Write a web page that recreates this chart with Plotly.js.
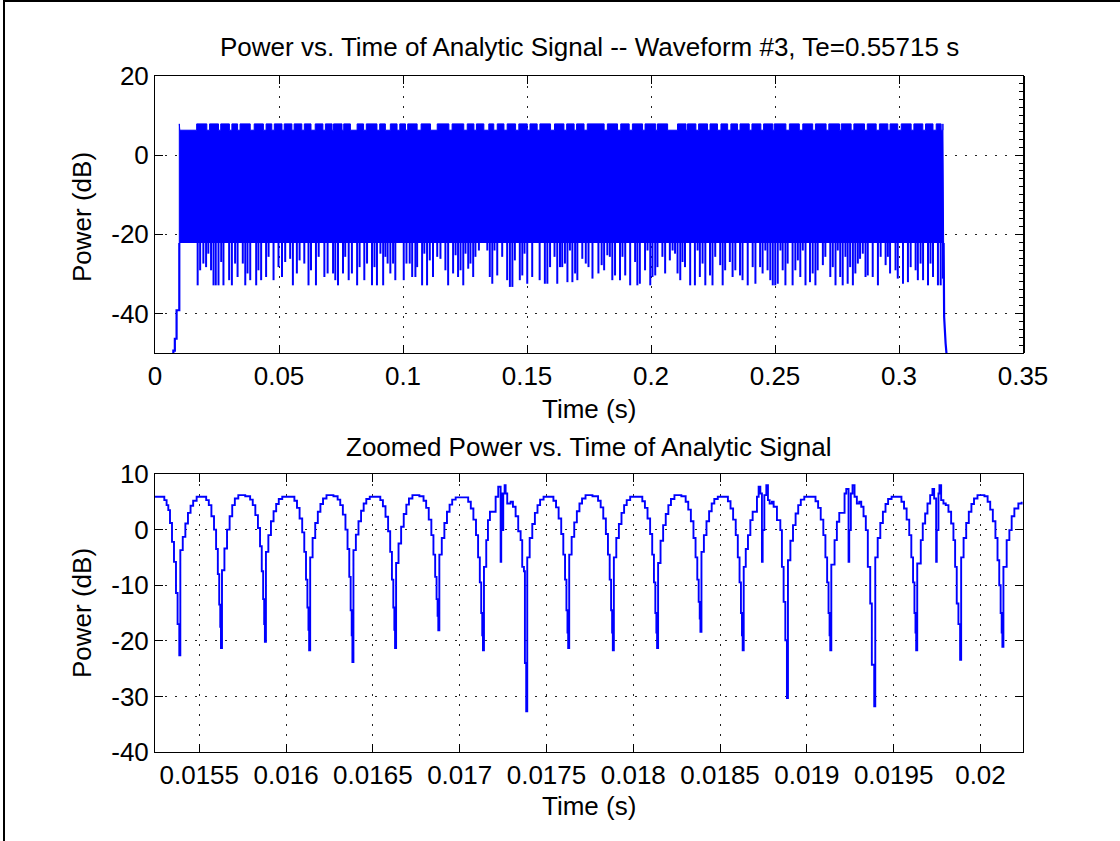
<!DOCTYPE html>
<html>
<head>
<meta charset="utf-8">
<script src="https://cdn.plot.ly/plotly-3.0.1.min.js"></script>
<style>html,body{margin:0;padding:0;background:#fff;}#chart{width:1120px;height:841px;}</style>
</head>
<body>
<div id="chart"></div>
<script>
// ---------- Top panel: Power vs. Time (s) ----------
const topTitle = "Power vs. Time of Analytic Signal -- Waveform #3, Te=0.55715 s";
const zoomTitle = "Zoomed Power vs. Time of Analytic Signal";
const xLabel = "Time (s)";
const yLabel = "Power (dB)";

const topXTicks = [0, 0.05, 0.1, 0.15, 0.2, 0.25, 0.3, 0.35];
const topXTickText = ["0", "0.05", "0.1", "0.15", "0.2", "0.25", "0.3", "0.35"];
const topYTicks = [-40, -20, 0, 20];
const topYTickText = ["-40", "-20", "0", "20"];

// solid band of the dense signal
const bandStart = 0.0098, bandEnd = 0.3180;
const bandHighDb = 7.9, bandNotchDb = 6.3, bandBaseDb = -22.2;
// spans where the upper edge sits at the lower level
const notchStart = [0.0100,0.0209,0.0256,0.0300,0.0333,0.0384,0.0437,0.0471,0.0512,0.0552,
  0.0592,0.0629,0.0677,0.0714,0.0754,0.0788,0.0841,0.0895,0.0929,0.0976,
  0.1010,0.1057,0.1111,0.1185,0.1245,0.1286,0.1326,0.1366,0.1407,0.1454,
  0.1501,0.1541,0.1595,0.1649,0.1690,0.1730,0.1811,0.1865,0.1912,0.1966,
  0.2019,0.2067,0.2141,0.2181,0.2228,0.2268,0.2309,0.2349,0.2396,0.2443,
  0.2491,0.2544,0.2598,0.2652,0.2706,0.2760,0.2807,0.2861,0.2908,0.2955,
  0.2995,0.3049,0.3096,0.3137,0.3170];
const notchEnd = [0.0168,0.0220,0.0265,0.0310,0.0343,0.0400,0.0448,0.0481,0.0521,0.0561,
  0.0602,0.0646,0.0687,0.0720,0.0761,0.0815,0.0852,0.0906,0.0949,0.0987,
  0.1019,0.1073,0.1138,0.1198,0.1259,0.1296,0.1346,0.1380,0.1420,0.1467,
  0.1512,0.1552,0.1611,0.1660,0.1700,0.1743,0.1824,0.1878,0.1925,0.1976,
  0.2026,0.2107,0.2147,0.2192,0.2238,0.2282,0.2322,0.2359,0.2407,0.2454,
  0.2497,0.2558,0.2612,0.2663,0.2717,0.2767,0.2818,0.2872,0.2921,0.2964,
  0.3009,0.3060,0.3107,0.3150,0.3177];

// downward spikes below the band
const spikeTime = [
  0.0172,0.0182,0.0195,0.0206,0.0215,0.0226,0.0236,0.0245,0.0256,0.0267,
  0.0276,0.0299,0.0310,0.0323,0.0333,0.0354,0.0364,0.0373,0.0384,0.0408,
  0.0417,0.0428,0.0448,0.0458,0.0478,0.0498,0.0512,0.0525,0.0545,0.0556,
  0.0572,0.0583,0.0602,0.0619,0.0629,0.0649,0.0660,0.0683,0.0696,0.0718,
  0.0727,0.0738,0.0758,0.0767,0.0781,0.0794,0.0815,0.0825,0.0844,0.0855,
  0.0875,0.0885,0.0895,0.0909,0.0920,0.0929,0.0938,0.0949,0.0960,0.0969,
  0.1003,0.1014,0.1027,0.1037,0.1050,0.1057,0.1077,0.1086,0.1097,0.1108,
  0.1121,0.1138,0.1151,0.1171,0.1182,0.1202,0.1212,0.1222,0.1232,0.1243,
  0.1252,0.1263,0.1272,0.1283,0.1292,0.1306,0.1340,0.1350,0.1360,0.1369,
  0.1380,0.1400,0.1420,0.1431,0.1441,0.1451,0.1471,0.1481,0.1490,0.1501,
  0.1521,0.1551,0.1572,0.1582,0.1593,0.1611,0.1622,0.1633,0.1642,0.1653,
  0.1663,0.1673,0.1683,0.1694,0.1703,0.1723,0.1737,0.1748,0.1764,0.1788,
  0.1801,0.1811,0.1824,0.1834,0.1844,0.1855,0.1875,0.1885,0.1896,0.1916,
  0.1936,0.1945,0.1955,0.1976,0.1986,0.1997,0.2006,0.2017,0.2026,0.2046,
  0.2057,0.2076,0.2087,0.2097,0.2107,0.2118,0.2127,0.2137,0.2158,0.2177,
  0.2188,0.2197,0.2208,0.2219,0.2238,0.2248,0.2259,0.2279,0.2289,0.2299,
  0.2318,0.2329,0.2340,0.2359,0.2369,0.2390,0.2410,0.2421,0.2440,0.2450,
  0.2461,0.2470,0.2481,0.2491,0.2501,0.2511,0.2522,0.2531,0.2542,0.2551,
  0.2571,0.2582,0.2592,0.2602,0.2612,0.2623,0.2641,0.2652,0.2663,0.2672,
  0.2693,0.2703,0.2723,0.2733,0.2744,0.2753,0.2763,0.2773,0.2784,0.2793,
  0.2803,0.2814,0.2824,0.2834,0.2843,0.2854,0.2865,0.2874,0.2894,0.2915,
  0.2926,0.2946,0.2955,0.2964,0.2986,0.2995,0.3016,0.3036,0.3047,0.3067,
  0.3076,0.3087,0.3097,0.3117,0.3127,0.3137,0.3157,0.3168,0.3177];
const spikeDb = [
  -32.9,-29.1,-27.4,-28.3,-24.9,-29.1,-32.9,-32.9,-32.9,-27.0,
  -32.9,-31.6,-32.9,-27.4,-30.8,-27.4,-32.9,-29.9,-31.6,-32.9,
  -29.1,-31.6,-30.8,-25.7,-31.6,-28.3,-30.8,-27.0,-26.2,-32.9,
  -29.9,-26.6,-27.4,-32.9,-29.1,-32.9,-25.7,-30.8,-29.9,-29.9,
  -31.6,-32.9,-29.9,-25.7,-31.6,-29.9,-32.9,-28.3,-31.6,-27.4,
  -32.9,-28.3,-32.9,-24.9,-32.9,-25.7,-27.4,-29.9,-27.4,-31.6,
  -31.6,-27.4,-27.4,-30.8,-30.8,-28.3,-32.9,-24.9,-32.9,-26.6,
  -30.8,-25.7,-26.2,-29.1,-32.9,-29.9,-25.3,-30.8,-29.1,-32.9,
  -24.9,-28.7,-27.4,-30.8,-25.7,-24.1,-24.1,-30.8,-32.5,-24.1,
  -30.4,-25.7,-31.6,-33.3,-33.3,-26.6,-31.6,-30.4,-24.9,-32.5,
  -30.8,-31.6,-32.5,-32.5,-28.3,-25.7,-32.5,-28.3,-28.3,-27.4,
  -32.1,-24.1,-32.1,-29.9,-31.6,-26.2,-27.4,-28.3,-31.2,-29.9,
  -27.8,-29.1,-25.3,-25.7,-31.6,-30.4,-31.6,-25.7,-30.4,-32.9,
  -27.0,-32.9,-32.5,-29.1,-24.1,-32.9,-30.8,-30.4,-28.3,-25.7,
  -29.9,-26.6,-24.1,-24.9,-29.9,-31.6,-27.0,-28.3,-32.9,-32.9,
  -24.1,-30.8,-27.4,-32.9,-30.4,-32.9,-25.7,-27.8,-32.9,-29.1,
  -27.0,-30.8,-29.1,-30.4,-31.6,-32.9,-28.3,-32.5,-28.3,-29.9,
  -24.1,-29.1,-31.6,-32.9,-32.9,-32.5,-24.1,-29.1,-32.9,-27.4,
  -32.9,-29.1,-26.6,-30.8,-24.1,-32.9,-32.1,-29.9,-32.9,-29.1,
  -27.8,-25.7,-30.8,-28.3,-32.9,-24.1,-30.8,-32.9,-25.7,-32.5,
  -28.3,-32.9,-29.9,-27.4,-26.2,-24.9,-30.8,-30.4,-30.8,-32.9,
  -25.7,-27.8,-25.7,-29.9,-29.1,-31.2,-32.5,-32.1,-28.3,-29.1,
  -31.6,-27.4,-31.6,-32.9,-27.4,-30.8,-32.9,-32.9,-31.2];

// onset and decay of the burst
const leadTime = [0.0070, 0.0074, 0.0080, 0.0087, 0.0098];
const leadDb = [-50.0, -49.4, -46.4, -39.2, -22.2];
const tailTime = [0.3180, 0.3180, 0.3182, 0.3188, 0.3192];
const tailDb = [-22.2, -31.2, -40.9, -47.6, -50.5];

// ---------- Bottom panel: zoomed view (time in ms) ----------
const zoomXTicks = [0.0155, 0.016, 0.0165, 0.017, 0.0175, 0.018, 0.0185, 0.019, 0.0195, 0.02];
const zoomXTickText = ["0.0155", "0.016", "0.0165", "0.017", "0.0175", "0.018", "0.0185", "0.019", "0.0195", "0.02"];
const zoomYTicks = [-40, -30, -20, -10, 0, 10];
const zoomYTickText = ["-40", "-30", "-20", "-10", "0", "10"];

const zoomTimeMs = [
  15.2451,15.2986,15.3118,15.3216,15.3314,15.3429,15.3544,15.3659,15.3751,15.3849,
  15.3909,15.4049,15.4199,15.4349,15.4499,15.4649,15.4849,15.5249,15.5399,15.5549,15.5699,15.5849,15.5969,15.6069,15.6149,15.6209,15.6249,
  15.6309,15.6449,15.6599,15.6749,15.6899,15.7049,15.7249,15.7649,15.7930,15.8080,15.8230,15.8380,15.8500,15.8600,15.8680,15.8740,15.8780,
  15.8840,15.8980,15.9130,15.9280,15.9430,15.9580,15.9780,16.0180,16.0479,16.0629,16.0779,16.0929,16.1049,16.1149,16.1229,16.1289,16.1329,
  16.1389,16.1529,16.1679,16.1829,16.1979,16.2129,16.2329,16.2729,16.2971,16.3121,16.3271,16.3421,16.3541,16.3641,16.3721,16.3781,16.3821,
  16.3881,16.4021,16.4171,16.4321,16.4471,16.4621,16.4821,16.5221,16.5428,16.5578,16.5728,16.5878,16.5998,16.6098,16.6178,16.6238,16.6278,
  16.6338,16.6478,16.6628,16.6778,16.6928,16.7078,16.7278,16.7678,16.7919,16.8069,16.8219,16.8369,16.8489,16.8589,16.8669,16.8729,16.8769,
  16.8829,16.8969,16.9119,16.9269,16.9419,16.9569,16.9769,17.0169,17.0491,17.0641,17.0791,17.0941,17.1061,17.1161,17.1241,17.1301,17.1341,
  17.1400,17.1531,17.1629,17.1744,17.2072,17.2222,17.2360,17.2394,17.2452,17.2510,17.2590,17.2647,17.2740,17.2935,17.3068,17.3223,17.3373,17.3511,17.3603,17.3701,17.3758,17.3833,
  17.3893,17.4033,17.4183,17.4333,17.4483,17.4633,17.4833,17.5233,17.5400,17.5550,17.5700,17.5850,17.5970,17.6070,17.6150,17.6210,17.6250,
  17.6310,17.6450,17.6600,17.6750,17.6900,17.7050,17.7250,17.7650,17.7972,17.8122,17.8272,17.8422,17.8542,17.8642,17.8722,17.8782,17.8822,
  17.8882,17.9022,17.9172,17.9322,17.9472,17.9622,17.9822,18.0222,18.0521,18.0671,18.0821,18.0971,18.1091,18.1191,18.1271,18.1331,18.1371,
  18.1431,18.1571,18.1721,18.1871,18.2021,18.2171,18.2371,18.2771,18.3018,18.3168,18.3318,18.3468,18.3588,18.3688,18.3768,18.3828,18.3868,
  18.3928,18.4068,18.4218,18.4368,18.4518,18.4668,18.4868,18.5268,18.5452,18.5602,18.5752,18.5902,18.6022,18.6122,18.6202,18.6262,18.6302,
  18.6362,18.6480,18.6607,18.6745,18.6877,18.7125,18.7222,18.7320,18.7412,18.7453,18.7550,18.7665,18.7758,18.7855,18.7988,18.8086,18.8276,18.8471,18.8563,18.8661,18.8759,18.8851,
  18.8911,18.9051,18.9201,18.9351,18.9501,18.9651,18.9851,19.0251,19.0498,19.0648,19.0798,19.0948,19.1068,19.1168,19.1248,19.1308,19.1348,
  19.1408,19.1595,19.1728,19.1866,19.2171,19.2269,19.2401,19.2441,19.2533,19.2631,19.2746,19.2879,19.3017,19.3132,19.3264,19.3396,19.3511,19.3650,19.3742,19.3880,
  19.3940,19.4080,19.4230,19.4380,19.4530,19.4680,19.4880,19.5280,19.5447,19.5597,19.5747,19.5897,19.6017,19.6117,19.6197,19.6257,19.6297,
  19.6357,19.6561,19.6676,19.6814,19.6947,19.7102,19.7234,19.7332,19.7447,19.7482,19.7580,19.7637,19.7735,19.7867,19.8000,19.8155,19.8310,19.8443,19.8540,19.8633,19.8730,19.8828,
  19.8888,19.9028,19.9178,19.9328,19.9478,19.9628,19.9828,20.0228,20.0412,20.0562,20.0712,20.0862,20.0982,20.1082,20.1162,20.1222,20.1262,
  20.1322,20.1510,20.1665,20.1797,20.1953,20.2183,20.2373];
const zoomPowerDb = [
  5.9,5.3,4.4,3.5,1.2,-2.2,-5.8,-11.4,-17.0,-22.6,
  -3.7,-1.3,1.1,3.0,4.3,5.2,5.9,5.9,5.3,4.4,2.4,0.0,-3.5,-8.0,-13.5,-17.5,-21.3,
  -7.3,-3.4,0.0,2.4,4.4,5.6,6.2,6.0,5.4,4.4,2.6,0.3,-3.0,-7.5,-12.5,-17.0,-20.2,
  -4.0,-1.0,1.5,3.3,4.6,5.5,5.9,5.9,5.2,3.9,2.0,-0.5,-4.0,-9.0,-14.0,-18.0,-21.7,
  -5.0,-1.5,1.2,3.2,4.6,5.6,6.2,6.0,5.4,4.4,2.7,0.0,-3.5,-8.5,-14.5,-19.0,-23.8,
  -3.7,-0.9,1.5,3.4,4.7,5.5,5.9,5.9,5.3,4.2,2.3,-0.3,-4.0,-9.0,-14.0,-18.0,-21.3,
  -6.0,-2.5,0.5,2.8,4.5,5.6,6.2,6.0,5.2,3.9,1.8,-1.0,-4.5,-8.5,-12.5,-15.5,-18.1,
  -4.5,-1.5,1.2,3.2,4.5,5.4,5.8,5.8,5.0,3.8,1.8,-1.0,-5.0,-9.5,-15.0,-19.0,-21.7,
  -6.7,-1.9,1.7,3.2,5.9,7.7,-5.8,6.5,-0.1,6.5,8.0,6.5,4.7,5.0,4.1,2.4,-0.3,-1.9,-6.7,-7.5,-24.0,-32.7,
  -5.0,-1.5,1.0,3.0,4.4,5.4,5.9,5.9,5.2,4.0,2.0,-0.8,-4.5,-9.0,-14.5,-18.5,-21.3,
  -4.5,-1.3,1.3,3.3,4.7,5.6,6.2,6.0,5.2,4.0,2.0,-0.8,-4.5,-9.0,-14.5,-18.5,-21.7,
  -5.0,-1.5,1.0,3.0,4.4,5.3,5.9,5.9,5.1,3.9,2.0,-0.8,-4.5,-9.5,-15.0,-18.5,-21.3,
  -6.0,-2.0,0.8,2.8,4.4,5.5,6.2,6.0,5.0,3.6,1.5,-1.5,-5.0,-9.0,-13.0,-16.0,-18.4,
  -4.0,-1.0,1.5,3.3,4.7,5.5,5.9,5.9,5.1,3.8,1.8,-1.0,-5.0,-9.5,-15.0,-19.0,-21.7,
  -6.7,-3.5,-1.0,1.7,3.2,5.9,7.7,6.5,-5.8,-0.1,6.2,8.0,5.3,4.7,5.0,4.1,1.7,-0.1,-6.7,-13.0,-19.9,-30.3,
  -5.5,-2.0,0.8,2.9,4.4,5.4,5.9,5.9,5.1,3.9,1.8,-1.0,-5.0,-9.5,-15.0,-19.0,-21.7,
  -6.3,-1.9,1.4,3.0,6.5,7.3,-5.8,-0.1,6.5,8.0,5.9,4.7,5.0,4.1,2.4,-0.1,-6.7,-13.3,-24.3,-31.8,
  -5.0,-1.5,1.2,3.2,4.6,5.5,5.9,5.9,5.0,3.8,1.8,-1.0,-5.0,-9.5,-15.0,-18.5,-21.7,
  -6.1,-1.9,1.1,2.9,4.7,6.2,7.3,5.6,-5.8,-0.1,6.5,8.0,5.3,4.7,4.4,3.2,1.1,-1.9,-6.7,-13.3,-17.0,-23.4,
  -5.0,-1.5,1.2,3.2,4.6,5.6,6.2,6.0,5.0,3.6,1.5,-1.5,-5.5,-10.0,-15.0,-18.5,-21.1,
  -6.7,-1.9,-0.1,2.4,3.8,4.7,5.0];

// ---------- build traces ----------
const BLUE = "#0000ff";

// band polygon (upper edge steps between the two levels)
const bandX = [bandStart, bandStart], bandY = [bandBaseDb, bandHighDb];
const nNotch = Math.min(notchStart.length, notchEnd.length);
for (let i = 0; i < nNotch; i++) {
  bandX.push(notchStart[i], notchStart[i], notchEnd[i], notchEnd[i]);
  bandY.push(bandHighDb, bandNotchDb, bandNotchDb, bandHighDb);
}
bandX.push(bandEnd, bandEnd);
bandY.push(bandHighDb, bandBaseDb);

const spX = [], spY = [];
const nSp = Math.min(spikeTime.length, spikeDb.length);
for (let i = 0; i < nSp; i++) {
  spX.push(spikeTime[i], spikeTime[i], null);
  spY.push(bandBaseDb + 0.5, spikeDb[i], null);
}

const nZ = Math.min(zoomTimeMs.length, zoomPowerDb.length);
const zX = zoomTimeMs.slice(0, nZ).map(v => v / 1000);
const zY = zoomPowerDb.slice(0, nZ);

const traces = [
  {x: bandX, y: bandY, xaxis: "x", yaxis: "y", type: "scatter", mode: "lines",
   fill: "toself", fillcolor: BLUE, line: {color: BLUE, width: 1}, hoverinfo: "skip"},
  {x: spX, y: spY, xaxis: "x", yaxis: "y", type: "scatter", mode: "lines",
   line: {color: BLUE, width: 2}, connectgaps: false, hoverinfo: "skip"},
  {x: leadTime, y: leadDb, xaxis: "x", yaxis: "y", type: "scatter", mode: "lines",
   line: {color: BLUE, width: 2.2, shape: "hv"}, hoverinfo: "skip"},
  // tail drawn against the mirrored right-hand axis (same -50..20 range)
  {x: tailTime, y: tailDb, xaxis: "x", yaxis: "y3", type: "scatter", mode: "lines",
   line: {color: BLUE, width: 2.2}, hoverinfo: "skip"},
  {x: zX, y: zY, xaxis: "x2", yaxis: "y2", type: "scatter", mode: "lines",
   line: {color: BLUE, width: 1.9, shape: "hv"}, hoverinfo: "skip"}
];

// ---------- layout ----------
const FONT = "Liberation Sans, Arial, Helvetica, sans-serif";
const FS = 26;
const W = 1120, H = 841, ML = 155, MR = 97, MT = 76, MB = 89;
const PW = W - ML - MR, PH = H - MT - MB;
const px2x = px => (px - ML) / PW;
const py2y = py => (H - MB - py) / PH;

function axisBase() {
  return {
    showline: true, linecolor: "black", linewidth: 1, mirror: "ticks",
    ticks: "inside", ticklen: 8, tickwidth: 1, tickcolor: "black",
    showgrid: true, gridcolor: "#222", gridwidth: 1, griddash: "2px,8px",
    zeroline: false, tickfont: {family: FONT, size: FS, color: "black"},
    fixedrange: true, automargin: false
  };
}

const layout = {
  width: W, height: H,
  margin: {l: ML, r: MR, t: MT, b: MB, pad: 0},
  paper_bgcolor: "white", plot_bgcolor: "white",
  showlegend: false,
  font: {family: FONT, size: FS, color: "black"},
  xaxis: Object.assign(axisBase(), {domain: [0, 1], anchor: "y", range: [0, 0.35],
    tickmode: "array", tickvals: topXTicks, ticktext: topXTickText}),
  yaxis: Object.assign(axisBase(), {domain: [py2y(353), 1], anchor: "x", range: [-50, 20],
    tickmode: "array", tickvals: topYTicks, ticktext: topYTickText}),
  yaxis3: {overlaying: "y", side: "right", anchor: "x", range: [-50, 20],
    showgrid: false, zeroline: false, showline: true, linecolor: "black", linewidth: 2,
    showticklabels: false, ticks: "inside", ticklen: 8, tickcolor: "black",
    tickmode: "array", tickvals: topYTicks, fixedrange: true,
    minor: {ticks: "inside", ticklen: 4, tickcolor: "black", dtick: 2, tick0: 0, showgrid: false}},
  xaxis2: Object.assign(axisBase(), {domain: [0, 1], anchor: "y2", range: [0.015245, 0.020245],
    tickmode: "array", tickvals: zoomXTicks, ticktext: zoomXTickText}),
  yaxis2: Object.assign(axisBase(), {domain: [0, py2y(474)], anchor: "x2", range: [-40, 10],
    tickmode: "array", tickvals: zoomYTicks, ticktext: zoomYTickText}),
  annotations: [
    {text: topTitle, xref: "paper", yref: "paper", x: 0.5, y: py2y(47), xanchor: "center", yanchor: "middle", showarrow: false, font: {family: FONT, size: FS}},
    {text: xLabel, xref: "paper", yref: "paper", x: 0.5, y: py2y(409), xanchor: "center", yanchor: "middle", showarrow: false, font: {family: FONT, size: FS}},
    {text: yLabel, xref: "paper", yref: "paper", x: px2x(82), y: py2y(217), xanchor: "center", yanchor: "middle", textangle: -90, showarrow: false, font: {family: FONT, size: FS}},
    {text: zoomTitle, xref: "paper", yref: "paper", x: 0.5, y: py2y(447), xanchor: "center", yanchor: "middle", showarrow: false, font: {family: FONT, size: FS}},
    {text: xLabel, xref: "paper", yref: "paper", x: 0.5, y: py2y(806), xanchor: "center", yanchor: "middle", showarrow: false, font: {family: FONT, size: FS}},
    {text: yLabel, xref: "paper", yref: "paper", x: px2x(82), y: py2y(613), xanchor: "center", yanchor: "middle", textangle: -90, showarrow: false, font: {family: FONT, size: FS}}
  ],
  shapes: [
    {type: "line", xref: "paper", yref: "paper", x0: px2x(4), x1: px2x(4), y0: py2y(H), y1: py2y(0), line: {color: "black", width: 2}},
    {type: "line", xref: "paper", yref: "paper", x0: px2x(4), x1: px2x(W), y0: py2y(1), y1: py2y(1), line: {color: "black", width: 2}}
  ]
};

Plotly.newPlot("chart", traces, layout, {staticPlot: true, displayModeBar: false});
</script>
</body>
</html>
